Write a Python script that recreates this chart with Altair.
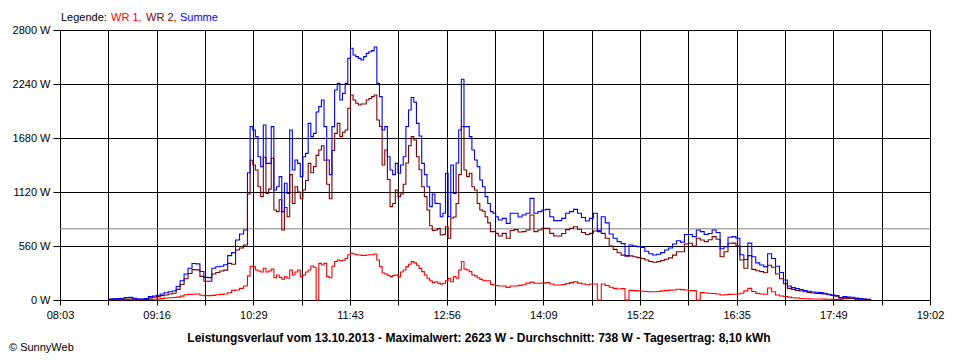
import altair as alt
import pandas as pd

# ---------------- data ----------------
times = (
    "08:40 08:43 08:46 08:49 08:52 08:55 08:58 09:01 09:04 09:07 09:10 09:13 "
    "09:16 09:19 09:22 09:25 09:28 09:31 09:34 09:37 09:40 09:43 09:46 09:49 "
    "09:52 09:55 09:58 10:01 10:04 10:07 10:10 10:13 10:16 10:19 10:22 10:25 "
    "10:27 10:29 10:31 10:33 10:35 10:37 10:39 10:41 10:43 10:45 10:47 10:49 "
    "10:51 10:53 10:55 10:57 10:59 11:01 11:03 11:05 11:07 11:09 11:11 11:13 "
    "11:15 11:17 11:19 11:21 11:23 11:25 11:27 11:29 11:31 11:33 11:35 11:37 "
    "11:39 11:41 11:43 11:45 11:47 11:49 11:51 11:53 11:55 11:57 11:59 12:01 "
    "12:03 12:05 12:07 12:09 12:11 12:13 12:15 12:17 12:19 12:21 12:23 12:25 "
    "12:27 12:29 12:31 12:33 12:35 12:37 12:39 12:41 12:43 12:45 12:47 12:49 "
    "12:51 12:53 12:55 12:57 12:59 13:01 13:03 13:05 13:07 13:09 13:11 13:13 "
    "13:15 13:17 13:19 13:21 13:23 13:25 13:27 13:29 13:31 13:33 13:35 "
    "13:38 13:41 13:44 13:47 13:50 13:53 13:56 13:59 14:02 14:05 14:08 14:11 "
    "14:14 14:17 14:20 14:23 14:26 14:29 14:32 14:35 14:38 14:41 14:44 14:47 "
    "14:50 14:53 14:56 14:59 15:02 15:05 15:08 15:11 15:14 15:17 15:20 15:23 "
    "15:26 15:29 15:32 15:35 15:38 15:41 15:44 15:47 15:50 15:53 15:56 15:59 "
    "16:02 16:05 16:08 16:11 16:14 16:17 16:20 16:23 16:26 16:29 16:32 16:35 "
    "16:38 16:41 16:44 16:47 16:50 16:53 16:56 16:59 17:02 17:05 17:08 17:11 "
    "17:14 17:17 17:20 17:23 17:26 17:29 17:32 17:35 17:38 17:41 17:44 17:47 "
    "17:50 17:53 17:56 17:59 18:02 18:05 18:08 18:11 18:14 18:17"
).split()

summe = [
    10, 12, 14, 18, 26, 28, 18, 10, 10, 14, 35, 42,
    50, 62, 75, 86, 93, 140, 200, 270, 330, 378, 375, 295,
    235, 232, 330, 345, 350, 365, 460, 491, 622, 684, 726, 1320,
    1800, 1763, 1694, 1486, 1383, 1815, 1417, 1417, 1798, 1141, 1175, 1279,
    916, 1210, 1106, 1763, 1348, 1452, 1417, 1279, 1486, 1521, 1832, 1694,
    1728, 1950, 2005, 2074, 1798, 1452, 1300, 1798, 2178, 2247, 2074, 2143,
    2247, 2506, 2610, 2541, 2524, 2506, 2489, 2524, 2558, 2575, 2586, 2623,
    2247, 2109, 1763, 1798, 1486, 1348, 1300, 1417, 1314, 1400, 1486, 1800,
    1970, 2100, 2050, 1832, 1700, 1417, 1300, 1175, 968, 1100, 1002, 1000,
    864, 900, 1314, 864, 1400, 1106, 1420, 1763, 2289, 1798, 1798, 1694,
    1556, 1452, 1383, 1245, 1175, 1072, 1000, 916, 899, 864, 830,
    847, 795, 899, 899, 860, 881, 899, 1054, 899, 916, 933, 940,
    864, 823, 823, 847, 900, 916, 940, 899, 855, 820, 847, 899,
    720, 864, 800, 684, 640, 605, 585, 460, 570, 560, 553, 546,
    505, 480, 467, 474, 491, 519, 540, 580, 615, 600, 680, 680,
    657, 726, 709, 680, 690, 726, 700, 532, 553, 650, 657, 640,
    470, 420, 590, 449, 385, 363, 346, 480, 430, 350, 285, 207,
    145, 128, 120, 108, 97, 90, 83, 80, 78, 70, 60, 52,
    45, 25, 35, 30, 28, 20, 15, 9, 7, 6,
]

wr2 = [
    7, 7, 8, 12, 20, 22, 14, 6, 6, 8, 22, 30,
    35, 45, 52, 62, 70, 110, 160, 220, 275, 315, 312, 245,
    195, 195, 270, 285, 300, 310, 380, 370, 519, 540, 570, 1100,
    1450, 1400, 1348, 1175, 1072, 1480, 1106, 1150, 1470, 933, 916, 1040,
    726, 960, 864, 1300, 1000, 1175, 1120, 1050, 1141, 1240, 1417, 1320,
    1383, 1500, 1556, 1600, 1450, 1200, 1050, 1550, 1728, 1832, 1694, 1740,
    1763, 1988, 2126, 2074, 2040, 2022, 2033, 2033, 2074, 2090, 2109, 2126,
    1867, 1800, 1400, 1556, 1250, 968, 1000, 1141, 1072, 1100, 1200, 1420,
    1600, 1694, 1659, 1486, 1350, 1175, 1072, 933, 770, 720, 726, 740,
    674, 680, 760, 640, 850, 860, 1000, 1300, 1800, 1348, 1279, 1314,
    1175, 1141, 1000, 933, 920, 864, 800, 709, 709, 691, 664,
    691, 640, 720, 730, 705, 709, 726, 881, 709, 726, 743, 743,
    691, 664, 664, 690, 730, 743, 760, 733, 700, 680, 691, 716,
    709, 691, 640, 560, 525, 490, 465, 455, 458, 449, 439, 430,
    415, 400, 391, 398, 410, 422, 437, 465, 500, 501, 580, 588,
    560, 640, 622, 605, 625, 657, 630, 449, 500, 588, 590, 560,
    415, 330, 460, 318, 304, 294, 283, 360, 340, 270, 220, 170,
    121, 110, 100, 94, 85, 78, 72, 69, 66, 62, 54, 46,
    40, 22, 22, 17, 15, 14, 9, 7, 5, 3,
]

wr1 = [
    3, 3, 3, 4, 5, 5, 4, 4, 4, 5, 7, 8,
    10, 14, 20, 24, 26, 30, 40, 55, 58, 60, 62, 50,
    45, 45, 48, 55, 58, 62, 75, 100, 104, 121, 145, 250,
    350, 346, 311, 300, 290, 330, 290, 300, 320, 230, 260, 235,
    215, 240, 225, 311, 259, 290, 311, 242, 259, 290, 311, 353,
    339, 0, 380, 363, 380, 242, 230, 350, 400, 415, 408, 412,
    430, 470, 484, 477, 470, 467, 463, 463, 467, 470, 470, 477,
    415, 346, 280, 270, 255, 242, 255, 260, 240, 290, 311, 346,
    370, 398, 385, 360, 328, 294, 260, 225, 200, 180, 190, 175,
    165, 173, 200, 225, 190, 242, 225, 311, 400, 320, 311, 294,
    259, 250, 230, 214, 205, 200, 200, 160, 155, 150, 145,
    145, 131, 145, 145, 152, 158, 175, 185, 173, 173, 175, 180,
    166, 155, 155, 160, 170, 180, 188, 175, 166, 158, 166, 166,
    0, 166, 150, 133, 121, 114, 118, 0, 100, 97, 95, 90,
    88, 86, 86, 88, 95, 97, 102, 104, 111, 108, 104, 97,
    97, 0, 76, 72, 70, 68, 62, 52, 55, 58, 59, 62,
    70, 95, 121, 88, 69, 62, 59, 125, 86, 52, 42, 36,
    30, 24, 20, 15, 13, 12, 11, 10, 10, 9, 8, 7,
    6, 6, 14, 18, 18, 5, 3, 2, 2, 1,
]

average = 738
y_ticks = [0, 560, 1120, 1680, 2240, 2800]
x_ticks = [483, 519.6, 556.2, 592.8, 629.4, 666.1, 702.7, 739.3, 775.9, 812.5,
           849.1, 885.7, 922.3, 958.9, 995.6, 1032.2, 1068.8, 1105.4, 1142]
x_labels = ["08:03", "", "09:16", "", "10:29", "", "11:43", "", "12:56", "",
            "14:09", "", "15:22", "", "16:35", "", "17:49", "", "19:02"]
series_names = ["WR 1", "WR 2", "Summe"]
series_colors = ["#ff0000", "#800000", "#0000ff"]
legend_texts = ["Legende:", "WR 1,", "WR 2,", "Summe"]
title_text = ("Leistungsverlauf vom 13.10.2013 - Maximalwert: 2623 W - "
              "Durchschnitt: 738 W - Tagesertrag: 8,10 kWh")
copyright_text = "© SunnyWeb"

assert len(times) == len(summe) == len(wr2) == len(wr1)


def to_min(t):
    h, m = t.split(":")
    return int(h) * 60 + int(m)


rows = []
for name, vals in zip(series_names, [wr1, wr2, summe]):
    for t, v in zip(times, vals):
        rows.append({"t": to_min(t), "w": v, "serie": name})
df = pd.DataFrame(rows)

FONT = "Liberation Sans"

label_arr = "[" + ",".join("'" + s + "'" for s in x_labels) + "]"
x_enc = alt.X(
    "t:Q",
    scale=alt.Scale(domain=[x_ticks[0], x_ticks[-1]], nice=False, zero=False),
    axis=alt.Axis(
        values=x_ticks,
        labelExpr=label_arr + "[round((datum.value - 483) / 36.6111)]",
        grid=True, gridColor="black", gridOpacity=1, gridWidth=1,
        domainColor="black", domainWidth=1, tickColor="black", tickSize=5,
        labelFont=FONT, labelFontSize=11, labelColor="black", labelPadding=4,
        labelFlush=False, labelOverlap=False, title=None,
    ),
)
y_scale = alt.Scale(domain=[0, 2800], nice=False)
y_axis = alt.Axis(
    values=y_ticks, labelExpr="datum.value + ' W'",
    grid=True, gridColor="black", gridOpacity=1, gridWidth=1,
    domainColor="black", domainWidth=1, tickColor="black", tickSize=7,
    labelFont=FONT, labelFontSize=11, labelColor="black", labelPadding=3,
    labelFlush=False, labelOverlap=False, title=None,
)

avg_rule = alt.Chart(pd.DataFrame({"w": [average]})).mark_rule(
    color="#808080", strokeWidth=1
).encode(y=alt.Y("w:Q", scale=y_scale, axis=y_axis))

layers = [avg_rule]
for name, col in zip(series_names, series_colors):
    layers.append(
        alt.Chart(df).transform_filter(alt.datum.serie == name)
        .mark_line(color=col, strokeWidth=1.1, interpolate="step-after")
        .encode(x=x_enc, y=alt.Y("w:Q", scale=y_scale, axis=y_axis))
    )

# legend texts above the plot
legend_colors = ["black"] + series_colors
legend_x = [1, 51, 86, 120]
for txt, col, lx in zip(legend_texts, legend_colors, legend_x):
    layers.append(
        alt.Chart(pd.DataFrame({"txt": [txt]})).mark_text(
            align="left", baseline="alphabetic", font=FONT, fontSize=11, color=col
        ).encode(text="txt:N", x=alt.value(lx), y=alt.value(-9))
    )

layers.append(
    alt.Chart(pd.DataFrame({"txt": [title_text]})).mark_text(
        align="center", baseline="alphabetic", font=FONT, fontSize=12,
        fontWeight="bold", color="black"
    ).encode(text="txt:N", x=alt.value(419), y=alt.value(312))
)
layers.append(
    alt.Chart(pd.DataFrame({"txt": [copyright_text]})).mark_text(
        align="left", baseline="alphabetic", font=FONT, fontSize=11, color="black"
    ).encode(text="txt:N", x=alt.value(-51), y=alt.value(321))
)

chart = alt.layer(*layers).properties(
    width=870, height=270,
    autosize=alt.AutoSizeParams(type="none"),
    padding={"left": 52, "top": 22, "right": 22, "bottom": 60},
).configure(background="white").configure_view(stroke="black", strokeWidth=1)

chart.save("out.html", embed_options={"renderer": "svg", "actions": False})
